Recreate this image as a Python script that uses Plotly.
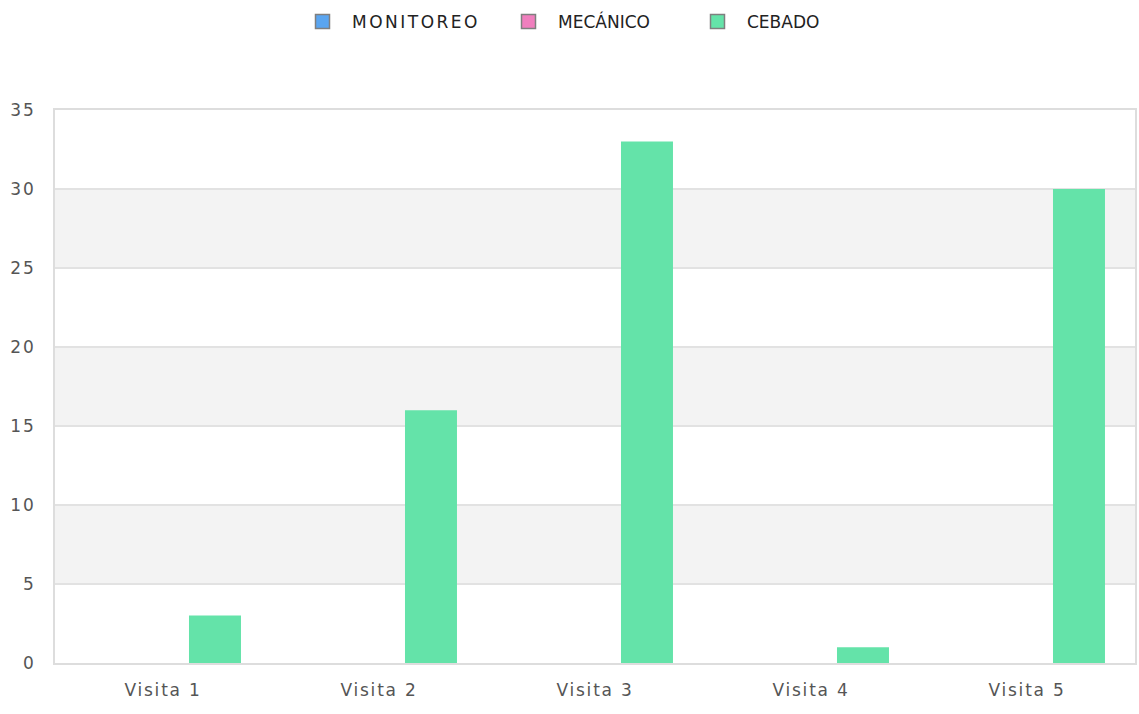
import plotly.graph_objects as go

categories = ["Visita 1", "Visita 2", "Visita 3", "Visita 4", "Visita 5"]
monitoreo = [0, 0, 0, 0, 0]
mecanico = [0, 0, 0, 0, 0]
cebado = [3, 16, 33, 1, 30]
series_names = ["MONITOREO", "MECÁNICO", "CEBADO"]
series_colors = ["#5aa5f0", "#f07fbe", "#64e3a9"]
y_ticks = [0, 5, 10, 15, 20, 25, 30, 35]

FONT = "DejaVu Sans"
FS = 17
PLOT_L, PLOT_W = 55, 1080
legend_ids = ["legend", "legend2", "legend3"]
legend_px = [293, 499, 688]  # left edge of each legend entry (px)

fig = go.Figure()
for name, vals, col, lid in zip(series_names, [monitoreo, mecanico, cebado], series_colors, legend_ids):
    fig.add_trace(go.Bar(x=categories, y=vals, name=name, showlegend=False,
                         marker=dict(color=col, line=dict(width=0)),
                         legendgroup=name))
    fig.add_trace(go.Scatter(x=[None], y=[None], name=name, mode="markers", showlegend=True,
                             marker=dict(symbol="square", size=14, color=col,
                                         line=dict(color="#7f7f7f", width=1.5)),
                             legendgroup=name, legend=lid))

# alternating background bands
for i in range(1, len(y_ticks) - 1, 2):
    fig.add_shape(type="rect", xref="paper", yref="y", x0=0, x1=1,
                  y0=y_ticks[i], y1=y_ticks[i + 1], fillcolor="#f3f3f3",
                  line=dict(width=0), layer="below")

legend_common = dict(orientation="h", xanchor="left", yref="container",
                     y=1 - 22 / 714, yanchor="middle", itemwidth=49,
                     entrywidth=150, entrywidthmode="pixels",
                     bgcolor="rgba(0,0,0,0)",
                     font=dict(family=FONT, size=FS, color="#222222"))
layout_legends = {lid: dict(x=(px - PLOT_L) / PLOT_W, **legend_common)
                  for lid, px in zip(legend_ids, legend_px)}

fig.update_layout(
    width=1139, height=714,
    margin=dict(l=55, r=4, t=110, b=51, autoexpand=False),
    paper_bgcolor="white", plot_bgcolor="white",
    barmode="group", bargap=0.278, bargroupgap=0,
    font=dict(family=FONT, size=FS, color="#555555"),
    showlegend=True,
    **layout_legends,
)
fig.update_xaxes(showgrid=False, showline=True, linecolor="#dddddd", linewidth=2,
                 mirror=True, ticks="", tickfont=dict(size=FS, color="#555555"),
                 ticklabelstandoff=11, automargin=False)
fig.update_yaxes(range=[0, 35], tickvals=y_ticks, showgrid=True, gridcolor="#e2e2e2",
                 gridwidth=1.5, showline=True, linecolor="#dddddd", linewidth=2,
                 mirror=True, ticks="", zeroline=False,
                 tickfont=dict(size=FS, color="#555555"), ticklabelstandoff=14,
                 automargin=False)

post = """
document.body.style.margin='0';
document.body.style.overflow='hidden';
var css = document.createElement('style');
css.textContent = '.xtick text, .ytick text { letter-spacing: 1.8px !important; } ' +
                  'text.legendtext { letter-spacing: 2.5px !important; }';
document.head.appendChild(css);
"""
fig.write_html("out.html", post_script=post, config={"displayModeBar": False})
